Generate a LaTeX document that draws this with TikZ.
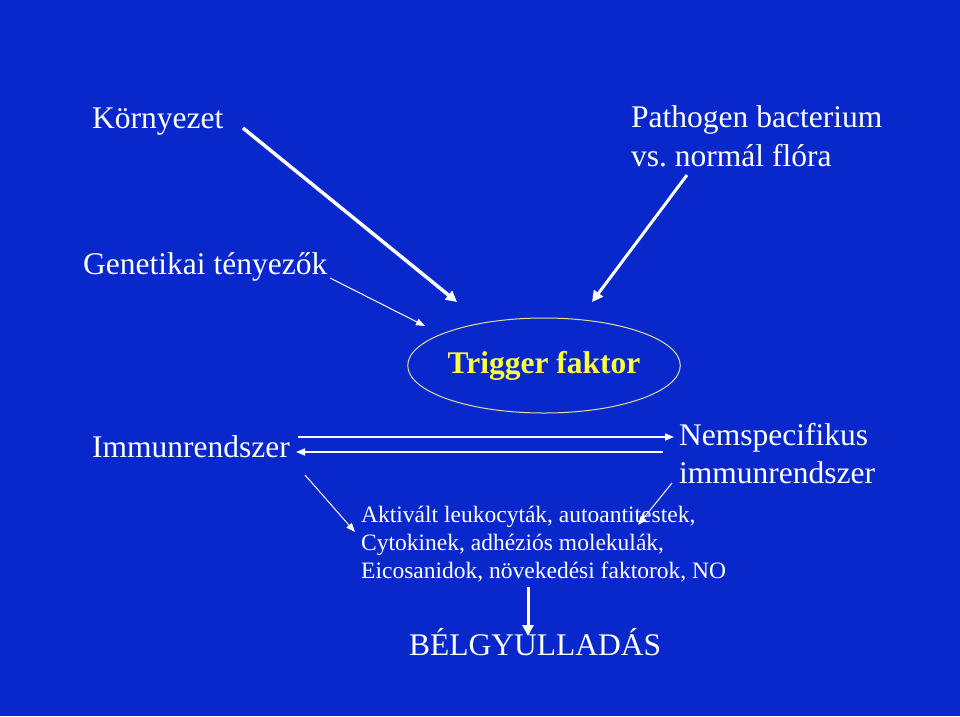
\documentclass[tikz,border=0pt]{standalone}
\usepackage{fontspec}
\setmainfont{Liberation Serif}
\usepackage{xcolor}
\usetikzlibrary{arrows.meta}
\usetikzlibrary{shapes.geometric}

\definecolor{slideblue}{RGB}{8,40,204}
\definecolor{triggeryellow}{RGB}{255,255,60}
\definecolor{ovalline}{RGB}{225,225,150}

\tikzset{
  bigtext/.style={font=\fontsize{31.5}{36}\selectfont, text=white, inner sep=0pt, anchor=base west},
  smalltext/.style={font=\fontsize{23.5}{28}\selectfont, text=white, inner sep=0pt, anchor=base west},
  fatarrow/.style={-{Triangle[length=11pt,width=11pt]}, draw=white, line width=3.5pt},
  thinarrow/.style={-{Triangle[length=9pt,width=7pt]}, draw=white, line width=1pt},
}

\begin{document}
\begin{tikzpicture}[x=1pt,y=-1pt]

\fill [slideblue] (0,0) rectangle (960,716);
\useasboundingbox (0,0) rectangle (960,716);

\node [bigtext] (kornyezet) at (92,128) {Környezet};
\node [bigtext] (pathogen) at (631,127) {Pathogen bacterium};
\node [bigtext] (flora) at (631,166) {vs.\ normál flóra};
\node [bigtext] (genetikai) at (83,274) {Genetikai tényezők};

\node [ellipse, draw=ovalline, line width=1pt, minimum width=254pt, minimum height=95pt, inner sep=0pt,
       font=\bfseries\fontsize{31.5}{36}\selectfont, text=triggeryellow] (trigger) at (544,365.5) {Trigger faktor};

\node [bigtext] (immun) at (92,457) {Immunrendszer};
\node [bigtext] (nemspec) at (679,445) {Nemspecifikus};
\node [bigtext] (nemspecb) at (679,483) {immunrendszer};

\node [smalltext] (aktivalt) at (361,522) {Aktivált leukocyták, autoantitestek,};
\node [smalltext] (cytokin) at (361,550) {Cytokinek, adhéziós molekulák,};
\node [smalltext] (eicosa) at (361,578) {Eicosanidok, növekedési faktorok, NO};

\node [bigtext] (belgy) at (409,655) {BÉLGYULLADÁS};

% arrow ends
\coordinate (korny-s) at (243,128);
\coordinate (korny-e) at (457,302);
\coordinate (flora-s) at (687,175);
\coordinate (flora-e) at (592,302);
\coordinate (gen-s) at (330,278);
\coordinate (gen-e) at (425,326);
\coordinate (immun-a) at (298,437);
\coordinate (nem-a) at (674,437);
\coordinate (nem-b) at (663,452);
\coordinate (immun-b) at (296,452);
\coordinate (immun-s) at (305,475);
\coordinate (immun-e) at (355,532);
\coordinate (nem-s) at (672,483);
\coordinate (nem-e) at (638,525);
\coordinate (eico-s) at (528,587);
\coordinate (belgy-e) at (528,636);

\draw [fatarrow] (korny-s) -- (korny-e);
\draw [fatarrow, line width=3pt] (flora-s) -- (flora-e);
\draw [thinarrow] (gen-s) -- (gen-e);

\draw [thinarrow, line width=1.5pt] (immun-a) -- (nem-a);
\draw [thinarrow, line width=1.5pt] (nem-b) -- (immun-b);

\draw [thinarrow] (immun-s) -- (immun-e);
\draw [thinarrow] (nem-s) -- (nem-e);

\draw [fatarrow, line width=3pt] (eico-s) -- (belgy-e);

\end{tikzpicture}
\end{document}
